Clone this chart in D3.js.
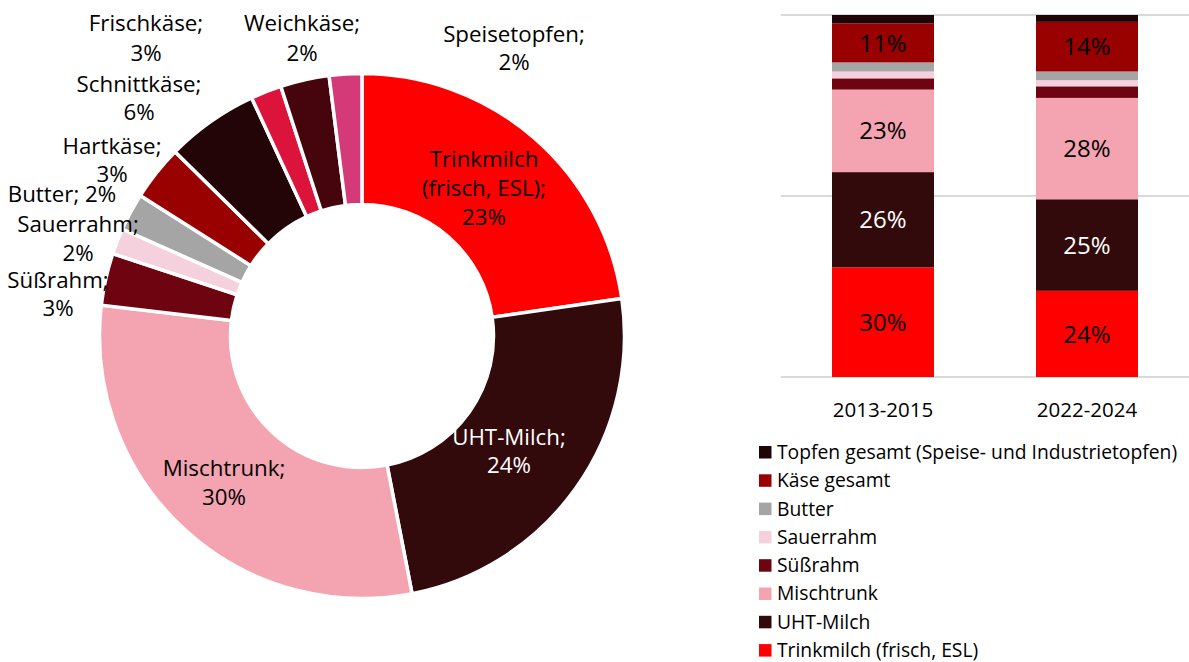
<!DOCTYPE html>
<html>
<head>
<meta charset="utf-8">
<script src="https://cdn.jsdelivr.net/npm/d3@7"></script>
<style>
  html, body { margin: 0; padding: 0; background: #fff; }
  svg { display: block; font-family: "Open Sans", "Noto Sans", sans-serif; }
</style>
</head>
<body>
<svg id="chart" width="1189" height="662"></svg>
<script>
// ---------- Donut data ----------
const pieNames = ["Trinkmilch (frisch, ESL)", "UHT-Milch", "Mischtrunk", "Süßrahm", "Sauerrahm",
  "Butter", "Hartkäse", "Schnittkäse", "Weichkäse", "Frischkäse", "Speisetopfen"];
const pieValues = [22.7, 24.2, 29.9, 3.2, 1.6, 2.3, 3.4, 5.7, 1.9, 3.0, 2.0];
const pieColors = ["#FF0000", "#330A0C", "#F4A3B1", "#6E0410", "#F5D0DD",
  "#A5A5A5", "#990000", "#230507", "#DC143C", "#46050D", "#D53A78"];

// ---------- Stacked bar data ----------
const barCategories = ["2013-2015", "2022-2024"];
const seriesNames = ["Trinkmilch (frisch, ESL)", "UHT-Milch", "Mischtrunk", "Süßrahm", "Sauerrahm",
  "Butter", "Käse gesamt", "Topfen gesamt (Speise- und Industrietopfen)"];
const values2013 = [30.3, 26.3, 22.8, 3.1, 1.9, 2.5, 10.8, 2.3];
const values2022 = [23.8, 25.3, 28.0, 3.2, 1.7, 2.4, 13.7, 1.9];
const seriesColors = ["#FF0000", "#330A0C", "#F4A3B1", "#6E0410", "#F5D0DD",
  "#A5A5A5", "#990000", "#1F0508"];
const seriesLabelColors = ["#000", "#fff", "#000", "#000", "#000", "#000", "#000", "#fff"];
const yTicks = [0, 50, 100];

// ---------- Layout (not data) ----------
const pieCx = 362, pieCy = 336, pieR = 262.5, pieR0 = 131.5;
const pieLabelLayout = {
  "Trinkmilch (frisch, ESL)": { x: 484, y: 167, lh: 29, split: true, color: "#000" },
  "UHT-Milch": { x: 509, y: 445, lh: 28, color: "#fff" },
  "Mischtrunk": { x: 224, y: 476, lh: 29, color: "#000" },
  "Süßrahm": { x: 58, y: 288, lh: 28, color: "#000" },
  "Sauerrahm": { x: 78, y: 232, lh: 29, color: "#000" },
  "Butter": { x: 62, y: 202, lh: 0, oneLine: true, color: "#000" },
  "Hartkäse": { x: 112, y: 154, lh: 28, color: "#000" },
  "Schnittkäse": { x: 139, y: 92, lh: 28, color: "#000" },
  "Weichkäse": { x: 302, y: 31, lh: 30, color: "#000" },
  "Frischkäse": { x: 146, y: 31, lh: 30, color: "#000" },
  "Speisetopfen": { x: 514, y: 42, lh: 28, color: "#000" }
};

const svg = d3.select("#chart");

// ---------- Donut ----------
const pieData = pieNames.map((n, i) => ({ name: n, v: pieValues[i], color: pieColors[i] }));
const pie = d3.pie().sort(null).value(d => d.v);
const arc = d3.arc().innerRadius(pieR0).outerRadius(pieR);
const gPie = svg.append("g").attr("transform", `translate(${pieCx},${pieCy})`);
gPie.selectAll("path").data(pie(pieData)).join("path")
  .attr("d", arc)
  .attr("fill", d => d.data.color)
  .attr("stroke", "#fff")
  .attr("stroke-width", 3.5)
  .attr("stroke-linejoin", "miter");

const total = d3.sum(pieValues);
pieData.forEach(d => {
  const L = pieLabelLayout[d.name];
  const pct = Math.round(d.v / total * 100) + "%";
  let lines;
  if (L.oneLine) lines = [d.name + "; " + pct];
  else if (L.split) {
    const k = d.name.indexOf(" ");
    lines = [d.name.slice(0, k), d.name.slice(k + 1) + ";", pct];
  } else lines = [d.name + ";", pct];
  const t = svg.append("text")
    .attr("x", L.x).attr("y", L.y)
    .attr("text-anchor", "middle")
    .attr("font-size", 22.3)
    .attr("fill", L.color);
  lines.forEach((s, i) => {
    t.append("tspan").attr("x", L.x).attr("y", L.y + i * L.lh).text(s);
  });
});

// ---------- Stacked bars ----------
const plotLeft = 781, plotRight = 1189, plotTop = 15, plotBottom = 377;
const x = d3.scaleBand().domain(barCategories).range([plotLeft, plotRight]).paddingInner(0.5).paddingOuter(0.25);
const y = d3.scaleLinear().domain([0, 100]).range([plotBottom, plotTop]);

const gGrid = svg.append("g");
gGrid.selectAll("line").data(yTicks).join("line")
  .attr("x1", plotLeft).attr("x2", plotRight)
  .attr("y1", d => y(d)).attr("y2", d => y(d))
  .attr("stroke", "#D9D9D9").attr("stroke-width", 2);

const rows = barCategories.map((c, ci) => {
  const vals = ci === 0 ? values2013 : values2022;
  const o = { category: c };
  seriesNames.forEach((s, i) => o[s] = vals[i]);
  return o;
});
const stacked = d3.stack().keys(seriesNames)(rows);

const gBars = svg.append("g");
stacked.forEach((layer, si) => {
  gBars.append("g").attr("fill", seriesColors[si])
    .selectAll("rect").data(layer).join("rect")
    .attr("x", d => x(d.data.category))
    .attr("width", x.bandwidth())
    .attr("y", d => y(d[1]))
    .attr("height", d => y(d[0]) - y(d[1]));
  gBars.append("g")
    .selectAll("text").data(layer.filter(d => d[1] - d[0] >= 5)).join("text")
    .attr("x", d => x(d.data.category) + x.bandwidth() / 2)
    .attr("y", d => (y(d[0]) + y(d[1])) / 2)
    .attr("dy", "0.36em")
    .attr("text-anchor", "middle")
    .attr("font-size", 24)
    .attr("fill", seriesLabelColors[si])
    .text(d => Math.round(d[1] - d[0]) + "%");
});

// x axis labels
const xAxis = d3.axisBottom(x).tickSize(0).tickPadding(0);
const gx = svg.append("g").attr("transform", `translate(0,${plotBottom})`).call(xAxis);
gx.select(".domain").remove();
gx.selectAll("text")
  .attr("font-family", "Open Sans, sans-serif")
  .attr("font-size", 20.5)
  .attr("fill", "#000")
  .attr("dy", null)
  .attr("y", 40);

// ---------- Legend ----------
const legendItems = seriesNames.map((n, i) => ({ name: n, color: seriesColors[i] })).reverse();
const gLeg = svg.append("g");
legendItems.forEach((d, i) => {
  const cy = 452 + i * 28.3;
  gLeg.append("rect").attr("x", 759).attr("y", cy - 6).attr("width", 12.5).attr("height", 12.5).attr("fill", d.color);
  gLeg.append("text").attr("x", 777).attr("y", cy).attr("dy", "0.36em")
    .attr("font-size", 19.3).attr("fill", "#000").text(d.name);
});
</script>
</body>
</html>
